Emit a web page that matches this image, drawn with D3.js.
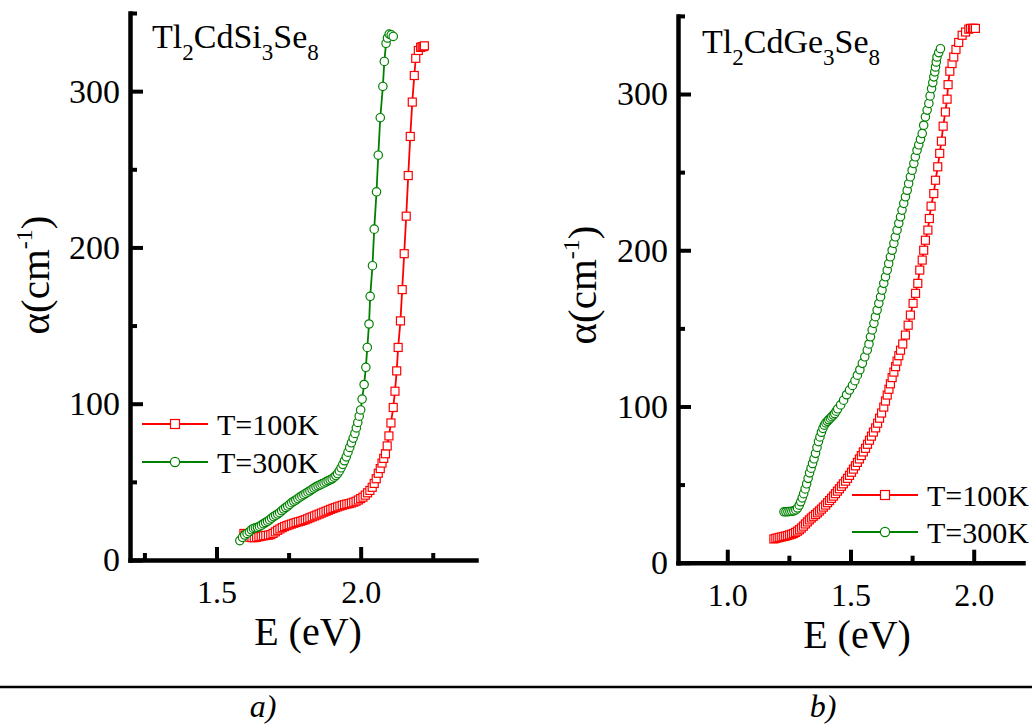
<!DOCTYPE html>
<html><head><meta charset="utf-8">
<script src="https://cdn.jsdelivr.net/npm/d3@7"></script>
<style>
body{margin:0;background:#fff;}
svg{display:block;font-family:"Liberation Serif","Times New Roman",serif;}
</style></head><body>
<svg id="c" width="1032" height="728"></svg>
<script>
// ---- data: [E (eV), alpha (cm^-1)] ----
const si100K = [[1.595,17.0],[1.600,16.0],[1.607,15.2],[1.615,14.6],[1.623,14.3],[1.631,14.3],[1.639,14.5],[1.647,14.9],[1.655,15.2],[1.663,15.5],[1.671,15.7],[1.680,15.9],[1.688,16.2],[1.696,17.0],[1.704,18.0],[1.712,19.0],[1.720,19.9],[1.728,20.7],[1.736,21.4],[1.744,22.0],[1.752,22.5],[1.760,23.0],[1.768,23.5],[1.776,24.0],[1.784,24.4],[1.792,24.8],[1.800,25.3],[1.808,25.8],[1.816,26.4],[1.824,27.0],[1.832,27.6],[1.840,28.2],[1.848,28.8],[1.856,29.4],[1.864,30.0],[1.872,30.6],[1.880,31.2],[1.888,31.8],[1.896,32.4],[1.904,33.0],[1.912,33.5],[1.920,34.0],[1.928,34.5],[1.936,35.0],[1.944,35.4],[1.952,35.8],[1.960,36.1],[1.968,36.5],[1.976,37.0],[1.984,37.6],[1.992,38.4],[2.000,39.3],[2.008,40.2],[2.016,41.5],[2.024,43.0],[2.032,44.5],[2.040,46.5],[2.047,49],[2.054,52],[2.061,55.5],[2.068,58.5],[2.074,62],[2.080,65],[2.086,68],[2.092,73],[2.098,79.4],[2.105,87.7],[2.113,97.6],[2.119,108],[2.125,121],[2.130,136],[2.138,153],[2.144,173],[2.151,196],[2.158,220],[2.165,246],[2.172,271],[2.179,293],[2.186,310],[2.191,321],[2.200,326],[2.208,328],[2.213,328.5],[2.217,328.5],[2.221,329]];
const si300K = [[1.581,12.4],[1.590,14.5],[1.598,16.0],[1.606,17.0],[1.614,18.0],[1.621,19.3],[1.628,20.2],[1.635,20.6],[1.642,20.9],[1.649,21.5],[1.656,22.3],[1.663,23.2],[1.670,24.0],[1.677,24.8],[1.684,25.7],[1.691,26.8],[1.698,27.8],[1.705,28.6],[1.712,29.4],[1.719,30.3],[1.726,31.5],[1.733,32.6],[1.740,33.6],[1.747,34.5],[1.754,35.6],[1.761,36.7],[1.768,37.6],[1.775,38.4],[1.782,39.3],[1.789,40.2],[1.796,41.0],[1.803,41.8],[1.810,42.6],[1.817,43.4],[1.824,44.3],[1.831,45.2],[1.838,46.0],[1.845,46.8],[1.852,47.5],[1.859,48.1],[1.866,48.7],[1.873,49.3],[1.880,50.0],[1.887,50.7],[1.894,51.3],[1.901,52.0],[1.908,53.0],[1.914,54.0],[1.920,55.3],[1.926,57.0],[1.932,59.0],[1.938,61.2],[1.944,63.5],[1.950,66.0],[1.956,69.0],[1.962,72.0],[1.968,75.0],[1.974,78.0],[1.980,81.0],[1.985,84.5],[1.990,88.0],[1.995,92.0],[2.000,96.0],[2.005,103],[2.012,112.3],[2.018,123.3],[2.023,136],[2.029,151],[2.033,168.7],[2.041,188.3],[2.047,211.7],[2.055,235.6],[2.061,259],[2.068,283],[2.077,303],[2.082,319],[2.088,330.6],[2.093,334],[2.099,336.5],[2.106,336],[2.113,335]];
const ge100K = [[1.189,15.2],[1.197,15.6],[1.205,15.9],[1.213,16.2],[1.221,16.5],[1.229,16.8],[1.237,17.1],[1.245,17.4],[1.253,17.8],[1.261,18.2],[1.269,18.7],[1.277,19.4],[1.285,20.2],[1.293,21.1],[1.301,22.2],[1.309,23.4],[1.317,24.8],[1.325,26.1],[1.333,27.4],[1.341,28.6],[1.349,29.7],[1.358,30.8],[1.366,31.9],[1.374,33.1],[1.382,34.3],[1.390,35.6],[1.399,36.9],[1.407,38.4],[1.415,39.8],[1.423,41.2],[1.431,42.6],[1.439,44.2],[1.447,45.8],[1.455,47.3],[1.463,48.9],[1.471,50.5],[1.480,52.2],[1.488,54.0],[1.496,55.9],[1.504,57.9],[1.512,59.9],[1.520,62.0],[1.528,64.2],[1.536,66.4],[1.544,68.6],[1.552,70.9],[1.561,73.2],[1.569,75.8],[1.577,78.4],[1.585,81.0],[1.593,83.6],[1.602,86.3],[1.610,89.3],[1.618,92.5],[1.626,95.8],[1.635,99.6],[1.642,103.5],[1.649,107.3],[1.656,111.0],[1.662,114.5],[1.669,118.5],[1.676,122],[1.683,125.5],[1.689,129],[1.696,132.5],[1.703,136],[1.712,140],[1.723,145.7],[1.734,152],[1.743,158.5],[1.754,166],[1.764,172.4],[1.773,178.8],[1.781,187.3],[1.791,193.7],[1.797,200],[1.804,206.4],[1.814,212.9],[1.820,220.3],[1.827,228.2],[1.838,236.3],[1.845,244.8],[1.854,253.4],[1.862,262],[1.869,269.8],[1.876,279.4],[1.885,288.5],[1.892,296.7],[1.896,306],[1.903,314.6],[1.912,319.5],[1.919,323.7],[1.928,328.5],[1.939,333],[1.953,337.6],[1.967,339.7],[1.980,341.5],[1.987,342],[1.995,342],[2.000,342],[2.007,342]];
const ge300K = [[1.230,32.6],[1.238,32.6],[1.246,32.7],[1.254,32.8],[1.262,32.9],[1.270,33.2],[1.278,33.8],[1.285,35.0],[1.292,36.8],[1.298,39.0],[1.304,41.5],[1.310,44.2],[1.316,47.2],[1.322,50.5],[1.328,54.0],[1.334,57.5],[1.340,60.5],[1.346,63.5],[1.352,66.5],[1.358,70.0],[1.364,73.8],[1.370,77.5],[1.376,80.5],[1.382,83.5],[1.388,86.0],[1.394,88.0],[1.400,89.5],[1.406,90.5],[1.412,91.5],[1.418,92.5],[1.424,93.5],[1.430,94.5],[1.436,95.5],[1.442,97.0],[1.448,98.5],[1.460,101],[1.472,104],[1.484,107.5],[1.496,110.5],[1.508,113.5],[1.518,116.5],[1.528,120],[1.538,123.5],[1.548,127.6],[1.558,131.8],[1.568,136.1],[1.575,140],[1.581,144.6],[1.588,149],[1.595,153.2],[1.601,157.5],[1.608,161.7],[1.615,166],[1.622,170.2],[1.628,174.5],[1.635,178.8],[1.642,183],[1.649,187.3],[1.655,191.5],[1.662,195.8],[1.669,200],[1.676,204.4],[1.682,208.6],[1.689,212.9],[1.696,217.2],[1.703,221.4],[1.709,225.7],[1.716,230],[1.723,234.2],[1.730,238.4],[1.736,242.7],[1.743,247],[1.750,251.2],[1.757,255.5],[1.763,259.8],[1.770,264],[1.777,267.5],[1.784,271],[1.791,274.7],[1.797,280],[1.804,285.4],[1.811,289.7],[1.818,294],[1.823,298.8],[1.829,303.5],[1.834,307.3],[1.838,311],[1.842,314.2],[1.845,317.3],[1.848,320.5],[1.851,323.7],[1.858,326.5],[1.865,329]];

const seriesLabels = ["T=100K", "T=300K"];
const seriesColors = ["#ff0000", "#008000"];
const yMajorTicks = [0, 100, 200, 300];
const yMinorTicks = [50, 150, 250, 350];
const xMajorSi = [1.5, 2.0];
const xMinorSi = [1.25, 1.75, 2.25];
const xMajorGe = [1.0, 1.5, 2.0];
const xMinorGe = [1.25, 1.75];
const panelLabels = ["a)", "b)"];

const svg = d3.select("#c");
svg.append("rect").attr("width", 1032).attr("height", 728).attr("fill", "#fff");

function drawPanel(p) {
  const x = d3.scaleLinear().domain(p.xDomain).range([p.left, p.right]);
  const y = d3.scaleLinear().domain([0, 350]).range([p.bottom, p.top]);
  const g = svg.append("g");

  // data
  p.series.forEach((s, i) => {
    const col = seriesColors[i];
    g.append("path").datum(s)
      .attr("d", d3.line().x(d => x(d[0])).y(d => y(d[1])))
      .attr("fill", "none").attr("stroke", col).attr("stroke-width", 1.8);
    const mg = g.append("g");
    if (i === 0) {
      mg.selectAll("rect").data(s).join("rect")
        .attr("x", d => x(d[0]) - 4).attr("y", d => y(d[1]) - 4)
        .attr("width", 8).attr("height", 8)
        .attr("fill", "#fff").attr("stroke", col).attr("stroke-width", 1.2);
    } else {
      mg.selectAll("circle").data(s).join("circle")
        .attr("cx", d => x(d[0])).attr("cy", d => y(d[1])).attr("r", 4.2)
        .attr("fill", "#fff").attr("stroke", col).attr("stroke-width", 1.2);
    }
  });

  // axes
  const styleAxis = (sel, fs) => {
    sel.select(".domain").attr("stroke", "#000").attr("stroke-width", 4.5).attr("stroke-linecap", "square");
    sel.selectAll(".tick line").attr("stroke", "#000").attr("stroke-width", 4);
    sel.selectAll(".tick text").attr("fill", "#000").attr("font-size", fs)
      .attr("font-family", '"Liberation Serif","Times New Roman",serif');
  };
  const yAx = g.append("g").attr("transform", `translate(${p.left},0)`)
    .call(d3.axisLeft(y).tickValues(yMajorTicks).tickSize(-13).tickSizeOuter(0).tickPadding(10));
  styleAxis(yAx, 34);
  const yMin = g.append("g").attr("transform", `translate(${p.left},0)`)
    .call(d3.axisLeft(y).tickValues(yMinorTicks).tickSize(-7).tickFormat(""));
  yMin.select(".domain").remove();
  styleAxis(yMin, 34);

  const xAx = g.append("g").attr("transform", `translate(0,${p.bottom})`)
    .call(d3.axisBottom(x).tickValues(p.xMajor).tickSize(-13).tickSizeOuter(0).tickPadding(p.xPad).tickFormat(d3.format(".1f")));
  styleAxis(xAx, 32);
  const xMin = g.append("g").attr("transform", `translate(0,${p.bottom})`)
    .call(d3.axisBottom(x).tickValues(p.xMinor).tickSize(-7).tickFormat(""));
  xMin.select(".domain").remove();
  styleAxis(xMin, 32);

  // axis titles
  g.append("text").attr("x", p.exX).attr("y", p.exY).attr("text-anchor", "middle")
    .attr("font-size", 40).text("E (eV)");
  const at = g.append("text").attr("transform", `translate(${p.alX},${p.alY}) rotate(-90)`)
    .attr("text-anchor", "middle").attr("font-size", 41);
  at.append("tspan").text("α(cm");
  at.append("tspan").attr("font-size", 24).attr("dy", -17).text("-1");
  at.append("tspan").attr("dy", 17).text(")");

  // formula title
  const tt = g.append("text").attr("x", p.tX).attr("y", p.tY).attr("font-size", 34);
  p.formula.forEach(([t, sub], k) => {
    tt.append("tspan").attr("font-size", sub ? 23 : 34).attr("dy", sub ? 12 : (k === 0 ? 0 : -12)).text(t);
  });

  // legend
  seriesLabels.forEach((lab, i) => {
    const ly = p.legY[i];
    g.append("line").attr("x1", p.legX).attr("x2", p.legX + 66).attr("y1", ly).attr("y2", ly)
      .attr("stroke", seriesColors[i]).attr("stroke-width", 1.8);
    if (i === 0) {
      g.append("rect").attr("x", p.legX + 33 - 4.5).attr("y", ly - 4.5).attr("width", 9).attr("height", 9)
        .attr("fill", "#fff").attr("stroke", seriesColors[i]).attr("stroke-width", 1.2);
    } else {
      g.append("circle").attr("cx", p.legX + 33).attr("cy", ly).attr("r", 4.6)
        .attr("fill", "#fff").attr("stroke", seriesColors[i]).attr("stroke-width", 1.2);
    }
    g.append("text").attr("x", p.legX + 75).attr("y", ly + 10.5).attr("font-size", 30).text(lab);
  });

  svg.append("text").attr("x", p.capX).attr("y", 717).attr("text-anchor", "middle")
    .attr("font-size", 32).attr("font-style", "italic").text(p.cap);
}

drawPanel({
  xDomain: [1.2, 2.4], left: 130, right: 476, top: 13, bottom: 560,
  xMajor: xMajorSi, xMinor: xMinorSi, xPad: 20,
  series: [si100K, si300K],
  exX: 308, exY: 645, alX: 49, alY: 275,
  tX: 152, tY: 48, formula: [["Tl",0],["2",1],["CdSi",0],["3",1],["Se",0],["8",1]],
  legX: 142, legY: [424, 462],
  capX: 263, cap: panelLabels[0]
});
drawPanel({
  xDomain: [0.8, 2.2], left: 678, right: 1023, top: 15.9, bottom: 562.7,
  xMajor: xMajorGe, xMinor: xMinorGe, xPad: 21,
  series: [ge100K, ge300K],
  exX: 857, exY: 648, alX: 596, alY: 285,
  tX: 702, tY: 53, formula: [["Tl",0],["2",1],["CdGe",0],["3",1],["Se",0],["8",1]],
  legX: 852, legY: [495, 532],
  capX: 823, cap: panelLabels[1]
});

svg.append("line").attr("x1", 0).attr("x2", 1032).attr("y1", 687).attr("y2", 687)
  .attr("stroke", "#000").attr("stroke-width", 2.5);
</script>
</body></html>
